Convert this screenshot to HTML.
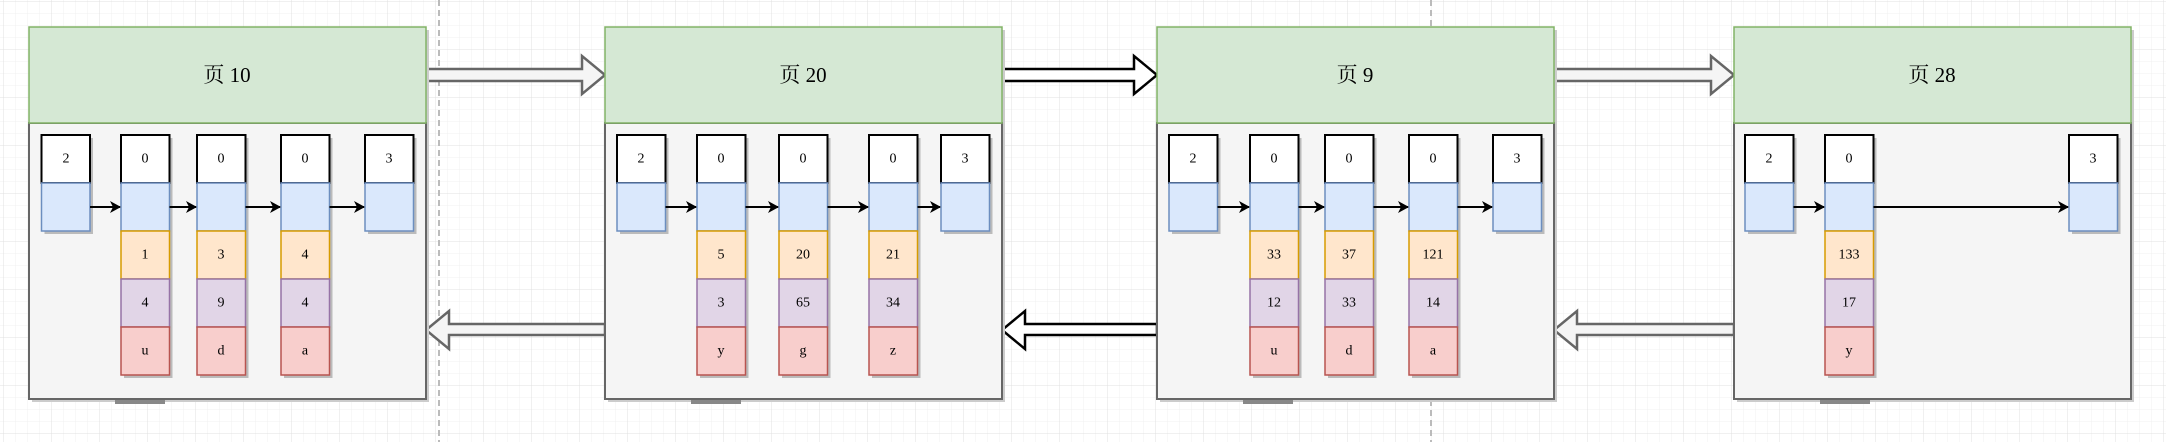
<!DOCTYPE html>
<html><head><meta charset="utf-8"><style>
html,body{margin:0;padding:0;width:2166px;height:442px;overflow:hidden;background:#fff}
svg{display:block}
text{font-family:"Liberation Serif","Noto Serif CJK SC",serif;text-anchor:middle;dominant-baseline:central;fill:#000}
</style></head><body>
<svg width="2166" height="442" xmlns="http://www.w3.org/2000/svg">
<defs>
<pattern id="mi" width="12" height="12" patternUnits="userSpaceOnUse" x="4" y="2"><path d="M12 0V12M0 12H12" stroke="#f0f0f0" stroke-width="1" fill="none"/></pattern>
<pattern id="ma" width="48" height="48" patternUnits="userSpaceOnUse" x="4" y="2"><path d="M48 0V48M0 48H48" stroke="#e0e0e0" stroke-width="1" fill="none"/></pattern>
<marker id="ah" markerWidth="12" markerHeight="12" refX="10" refY="6" orient="auto" markerUnits="userSpaceOnUse"><path d="M0 0L11 6L0 12L3 6Z" fill="#000"/></marker>
<g id="c5">
<rect x="3" y="3" width="48.5" height="240" fill="#bbb"/>
<rect x="0" y="0" width="48.5" height="48" fill="#fff" stroke="#000" stroke-width="2"/>
<rect x="0" y="48" width="48.5" height="48" fill="#dae8fc" stroke="#6c8ebf" stroke-width="1.5"/>
<rect x="0" y="96" width="48.5" height="48" fill="#ffe6cc" stroke="#d79b00" stroke-width="1.5"/>
<rect x="0" y="144" width="48.5" height="48" fill="#e1d5e7" stroke="#9673a6" stroke-width="1.5"/>
<rect x="0" y="192" width="48.5" height="48" fill="#f8cecc" stroke="#b85450" stroke-width="1.5"/>
</g>
<g id="c2">
<rect x="3" y="3" width="48.5" height="96" fill="#bbb"/>
<rect x="0" y="0" width="48.5" height="48" fill="#fff" stroke="#000" stroke-width="2"/>
<rect x="0" y="48" width="48.5" height="48" fill="#dae8fc" stroke="#6c8ebf" stroke-width="1.5"/>
</g>
<g id="pg">
<rect x="3" y="3" width="397" height="372" fill="#ccc"/>
<rect x="86" y="373" width="50" height="4" fill="#888"/>
<rect x="0" y="96" width="397" height="276" fill="#f5f5f5" stroke="#666" stroke-width="2"/>
<rect x="0" y="0" width="397" height="96" fill="#d5e8d4" stroke="#82b366" stroke-width="1.5"/>
</g>
</defs>
<rect width="2166" height="442" fill="url(#mi)"/>
<rect width="2166" height="442" fill="url(#ma)"/>
<line x1="439" y1="0" x2="439" y2="442" stroke="#bbb" stroke-width="2" stroke-dasharray="6 4"/>
<line x1="1431" y1="0" x2="1431" y2="442" stroke="#bbb" stroke-width="2" stroke-dasharray="6 4"/>

<g stroke-width="2.5" stroke-linejoin="miter">
<polygon points="426,69 582,69 582,56 605,75 582,94 582,81 426,81" fill="#f5f5f5" stroke="#666"/>
<polygon points="1002,69 1134,69 1134,56 1157,75 1134,94 1134,81 1002,81" fill="#fff" stroke="#000"/>
<polygon points="1554,69 1711,69 1711,56 1734,75 1711,94 1711,81 1554,81" fill="#f5f5f5" stroke="#666"/>
<polygon points="605,324 449,324 449,311 426,330 449,349 449,335 605,335" fill="#f5f5f5" stroke="#666"/>
<polygon points="1157,324 1025,324 1025,311 1002,330 1025,349 1025,335 1157,335" fill="#fff" stroke="#000"/>
<polygon points="1734,324 1577,324 1577,311 1554,330 1577,349 1577,335 1734,335" fill="#f5f5f5" stroke="#666"/>
</g>

<use href="#pg" x="29" y="27"/>
<use href="#pg" x="605" y="27"/>
<use href="#pg" x="1157" y="27"/>
<use href="#pg" x="1734" y="27"/>
<g font-size="21">
<text x="227" y="75">页 10</text>
<text x="803" y="75">页 20</text>
<text x="1355" y="75">页 9</text>
<text x="1932" y="75">页 28</text>
</g>

<use href="#c2" x="41.5" y="135"/>
<use href="#c5" x="121" y="135"/>
<use href="#c5" x="197" y="135"/>
<use href="#c5" x="281" y="135"/>
<use href="#c2" x="365" y="135"/>
<use href="#c2" x="617" y="135"/>
<use href="#c5" x="697" y="135"/>
<use href="#c5" x="779" y="135"/>
<use href="#c5" x="869" y="135"/>
<use href="#c2" x="941" y="135"/>
<use href="#c2" x="1169" y="135"/>
<use href="#c5" x="1250" y="135"/>
<use href="#c5" x="1325" y="135"/>
<use href="#c5" x="1409" y="135"/>
<use href="#c2" x="1493" y="135"/>
<use href="#c2" x="1745" y="135"/>
<use href="#c5" x="1825" y="135"/>
<use href="#c2" x="2069" y="135"/>

<g stroke="#000" stroke-width="2" marker-end="url(#ah)">
<line x1="90" y1="207" x2="120" y2="207"/>
<line x1="169.5" y1="207" x2="196" y2="207"/>
<line x1="245.5" y1="207" x2="280" y2="207"/>
<line x1="329.5" y1="207" x2="364" y2="207"/>
<line x1="665.5" y1="207" x2="696" y2="207"/>
<line x1="745.5" y1="207" x2="778" y2="207"/>
<line x1="827.5" y1="207" x2="868" y2="207"/>
<line x1="917.5" y1="207" x2="940" y2="207"/>
<line x1="1217.5" y1="207" x2="1249" y2="207"/>
<line x1="1298.5" y1="207" x2="1324" y2="207"/>
<line x1="1373.5" y1="207" x2="1408" y2="207"/>
<line x1="1457.5" y1="207" x2="1492" y2="207"/>
<line x1="1793.5" y1="207" x2="1824" y2="207"/>
<line x1="1873.5" y1="207" x2="2068" y2="207"/>
</g>

<g font-size="14">
<text x="66" y="159">2</text><text x="145" y="159">0</text><text x="221" y="159">0</text><text x="305" y="159">0</text><text x="389" y="159">3</text>
<text x="145" y="255">1</text><text x="221" y="255">3</text><text x="305" y="255">4</text>
<text x="145" y="303">4</text><text x="221" y="303">9</text><text x="305" y="303">4</text>
<text x="145" y="351">u</text><text x="221" y="351">d</text><text x="305" y="351">a</text>

<text x="641" y="159">2</text><text x="721" y="159">0</text><text x="803" y="159">0</text><text x="893" y="159">0</text><text x="965" y="159">3</text>
<text x="721" y="255">5</text><text x="803" y="255">20</text><text x="893" y="255">21</text>
<text x="721" y="303">3</text><text x="803" y="303">65</text><text x="893" y="303">34</text>
<text x="721" y="351">y</text><text x="803" y="351">g</text><text x="893" y="351">z</text>

<text x="1193" y="159">2</text><text x="1274" y="159">0</text><text x="1349" y="159">0</text><text x="1433" y="159">0</text><text x="1517" y="159">3</text>
<text x="1274" y="255">33</text><text x="1349" y="255">37</text><text x="1433" y="255">121</text>
<text x="1274" y="303">12</text><text x="1349" y="303">33</text><text x="1433" y="303">14</text>
<text x="1274" y="351">u</text><text x="1349" y="351">d</text><text x="1433" y="351">a</text>

<text x="1769" y="159">2</text><text x="1849" y="159">0</text><text x="2093" y="159">3</text>
<text x="1849" y="255">133</text>
<text x="1849" y="303">17</text>
<text x="1849" y="351">y</text>
</g>
</svg>
</body></html>
